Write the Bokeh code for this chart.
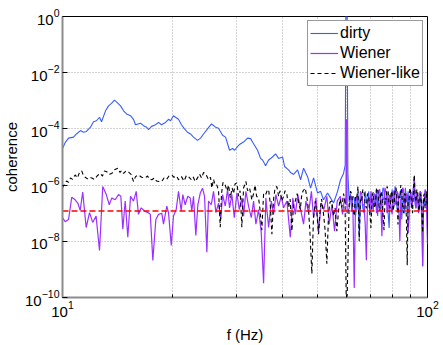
from bokeh.plotting import figure
from bokeh.models import FixedTicker, Legend, LegendItem, Range1d
from bokeh.embed import file_html
from bokeh.resources import INLINE

# ---------------- data ----------------
f_hi = [61, 61.5, 62, 62.5, 63, 63.5, 64, 64.5, 65, 65.5, 66, 66.5, 67, 67.5, 68, 68.5,
        69, 69.5, 70, 70.5, 71, 71.5, 72, 72.5, 73, 73.5, 74, 74.5, 75, 75.5, 76, 76.5,
        77, 77.5, 78, 78.5, 79, 79.5, 80, 80.5, 81, 81.5, 82, 82.5, 83, 83.5, 84, 84.5,
        85, 85.5, 86, 86.5, 87, 87.5, 88, 88.5, 89, 89.5, 90, 90.5, 91, 91.5, 92, 92.5,
        93, 93.5, 94, 94.5, 95, 95.5, 96, 96.5, 97, 97.5, 98, 98.5, 99, 99.5, 100]

f_dirty = [10.00, 10.19, 10.39, 10.72, 10.92, 11.20, 11.41, 11.63, 11.93, 12.16,
           12.39, 12.63, 12.79, 13.12, 13.37, 13.62, 13.88, 14.06, 14.42, 14.70,
           14.98, 15.36, 15.65, 15.85, 16.36, 16.67, 16.99, 17.21, 17.54, 17.98,
           18.33, 18.67, 19.15, 19.52, 19.77, 20.14, 20.40, 20.79, 21.18, 21.59,
           22.00, 22.42, 22.85, 23.44, 23.89, 24.35, 24.96, 25.60, 26.26, 26.76,
           27.45, 27.97, 28.69, 29.24, 29.61, 30.37, 30.75, 31.34, 32.14, 32.76,
           33.38, 34.23, 34.89, 35.33, 36.01, 36.70, 37.63, 38.35, 39.09, 40.09,
           40.59, 41.63, 42.16, 42.97, 44.06, 44.91, 45.76, 46.93, 47.83, 48.74,
           49.98, 50.94, 51.91, 53.23, 54.25, 55.29, 56.70, 57.78, 58.88, 59.50,
           59.75, 60.25, 60.50] + f_hi
coh_dirty = [2.0e-5, 3.4e-5, 4.7e-5, 5.1e-5, 6.6e-5, 8.7e-5, 7.6e-5, 8.1e-5, 1.15e-4, 1.8e-4,
             1.95e-4, 2.6e-4, 1.8e-4, 4.4e-4, 6.6e-4, 8.1e-4, 1.05e-3, 9.1e-4, 6.6e-4, 4.4e-4,
             3.4e-4, 2.95e-4, 2.2e-4, 1.4e-4, 1.6e-4, 1.3e-4, 1.15e-4, 9.5e-5, 1.23e-4, 1.4e-4,
             1.7e-4, 1.4e-4, 1.7e-4, 2.2e-4, 1.95e-4, 2.95e-4, 2.6e-4, 2.2e-4, 1.4e-4, 1.0e-4,
             7.6e-5, 6.6e-5, 5.1e-5, 3.9e-5, 4.7e-5, 6.6e-5, 1.0e-4, 1.5e-4, 1.15e-4, 1.05e-4,
             5.9e-5, 5.1e-5, 1.74e-5, 2.0e-5, 1.74e-5, 2.6e-5, 2.95e-5, 3.4e-5, 4.7e-5, 4.5e-5,
             2.95e-5, 1.74e-5, 8.9e-6, 7.8e-6, 4.9e-6, 7.8e-6, 1.0e-5, 1.3e-5, 8.9e-6, 1.0e-5,
             4.6e-6, 3.5e-6, 2.8e-6, 2.4e-6, 3.5e-6, 1.55e-6, 4.0e-6, 2.0e-6, 7.8e-7, 1.8e-6,
             5.2e-7, 6.0e-7, 3.0e-7, 5.2e-7, 3.5e-7, 2.3e-7, 6.0e-7, 1.55e-6, 2.6e-6, 5.0e-6,
             1.0, 1.0, 3.0e-6,
             2.5e-7, 5.0e-7, 1.2e-7, 4.0e-7, 3.5e-7, 8.0e-8, 2.0e-7, 5.5e-7, 1.4e-8, 3.0e-7,
             4.0e-7, 1.5e-7, 1.0e-7, 6.0e-7, 3.0e-7, 2.0e-7, 6.0e-7, 9.0e-8, 1.5e-7, 5.0e-7,
             4.5e-7, 2.5e-7, 2.0e-7, 7.0e-7, 8.0e-8, 3.5e-7, 5.0e-7, 1.5e-7, 2.5e-7, 8.0e-7,
             6.5e-7, 2.0e-7, 3.0e-7, 5.5e-7, 1.0e-7, 3.0e-8, 4.0e-7, 2.5e-7, 7.0e-7, 3.5e-7,
             2.0e-7, 9.0e-7, 5.0e-7, 1.5e-7, 1.2e-7, 4.5e-7, 3.5e-7, 7.0e-7, 6.0e-8, 2.5e-7,
             4.5e-7, 1.0e-7, 8.0e-7, 3.0e-7, 2.5e-7, 6.0e-7, 1.0e-7, 4.0e-7, 5.5e-7, 1.8e-7,
             3.0e-7, 9.0e-7, 7.0e-7, 2.0e-7, 1.5e-7, 5.0e-7, 4.0e-7, 1.2e-7, 3.0e-7, 6.0e-7,
             2.0e-7, 4.5e-8, 1.3e-9, 2.5e-7, 1.8e-7, 6.0e-7, 4.5e-7, 1.5e-7, 2.0e-7]

f_wiener = [10.00, 10.17, 10.39, 10.60, 10.83, 11.01, 11.18, 11.36, 11.61, 11.86,
            12.10, 12.36, 12.63, 12.89, 13.18, 13.43, 13.65, 13.94, 14.24, 14.45,
            14.63, 14.85, 15.10, 15.36, 15.65, 15.92, 16.15, 16.43, 16.78, 17.13,
            17.40, 17.68, 18.02, 18.33, 18.71, 18.91, 19.31, 19.52, 19.86, 20.14,
            20.49, 20.79, 21.14, 21.36, 21.68, 22.04, 22.38, 22.61, 22.85, 23.19,
            23.49, 23.85, 24.19, 24.50, 24.86, 25.12, 25.56, 25.93, 26.32, 26.76,
            27.15, 27.45, 27.92, 28.33, 28.69, 29.11, 29.56, 30.04, 30.50, 31.00,
            31.34, 31.80, 32.34, 32.90, 33.38, 33.87, 34.45, 35.03, 35.56, 36.07,
            36.70, 37.34, 37.87, 38.43, 39.09, 39.76, 40.34, 41.19, 42.08, 42.76,
            43.43, 44.14, 44.82, 45.76, 46.45, 47.23, 48.08, 48.74, 49.48, 50.30,
            51.16, 51.99, 53.00, 53.79, 54.70, 55.64, 56.58, 57.69, 58.51, 59.26,
            59.75, 60.00, 60.25] + f_hi
coh_wiener = [6.9e-8, 5.0e-8, 6.0e-8, 3.7e-7, 3.0e-7, 2.3e-7, 1.26e-7, 5.6e-7, 3.1e-8, 1.05e-7,
              4.7e-8, 7.9e-8, 4.7e-9, 8.9e-7, 4.6e-7, 2.0e-7, 3.5e-7, 3.0e-7, 4.6e-7, 4.0e-7,
              2.7e-8, 2.7e-7, 1.4e-8, 4.0e-7, 2.7e-7, 6.0e-7, 9.1e-8, 1.55e-7, 1.2e-7, 1.05e-7,
              9.1e-8, 2.1e-9, 6.0e-8, 9.1e-8, 1.0e-7, 4.1e-8, 1.8e-7, 1.05e-7, 7.1e-9, 7.9e-8,
              1.35e-7, 6.0e-7, 1.2e-7, 4.6e-7, 2.0e-7, 4.0e-7, 3.5e-7, 1.2e-7, 4.0e-7, 1.6e-8,
              2.0e-7, 5.2e-7, 7.8e-7, 4.0e-7, 4.1e-9, 2.7e-7, 2.0e-7, 6.0e-7, 1.05e-7, 2.3e-7,
              6.0e-8, 4.6e-7, 1.8e-7, 6.9e-7, 1.55e-7, 4.6e-7, 6.9e-8, 5.2e-7, 1.35e-7, 3.5e-7,
              7.9e-8, 6.0e-7, 1.8e-7, 6.9e-8, 2.7e-7, 4.1e-8, 1.35e-7, 2.1e-8, 3.2e-10, 3.5e-7,
              3.1e-8, 2.7e-7, 9.1e-8, 4.6e-7, 1.8e-7, 4.0e-7, 1.55e-7, 2.7e-7, 1.4e-8, 3.5e-7,
              9.1e-8, 4.6e-7, 1.55e-7, 4.1e-8, 2.7e-7, 1.05e-7, 6.0e-7, 6.9e-8, 3.5e-7, 2.3e-8,
              2.3e-7, 1.35e-7, 4.0e-7, 4.1e-8, 2.0e-7, 2.3e-8, 2.7e-7, 4.0e-7, 9.1e-8, 3.5e-7,
              2.0e-7, 2.2e-4, 1.0e-7,
              1.5e-7, 4.5e-7, 3.0e-7, 1.0e-7, 2.2e-10, 2.5e-7, 4.0e-7, 1.5e-7, 1.0e-7, 6.0e-7,
              5.0e-7, 2.0e-7, 2.0e-7, 4.0e-8, 2.1e-9, 3.0e-7, 3.5e-7, 1.2e-7, 6.0e-7, 3.0e-7,
              1.2e-7, 5.0e-7, 4.5e-7, 1.0e-7, 2.5e-7, 6.5e-7, 7.0e-7, 2.0e-7, 1.5e-8, 3.5e-7,
              3.0e-7, 8.0e-7, 5.5e-7, 1.0e-7, 1.5e-7, 4.5e-7, 4.0e-7, 1.5e-7, 9.0e-8, 5.0e-7,
              6.5e-7, 2.0e-7, 2.5e-7, 6.0e-7, 5.0e-7, 1.2e-7, 1.0e-8, 3.0e-7, 3.5e-7, 8.0e-7,
              7.0e-7, 1.5e-7, 2.0e-7, 5.0e-7, 4.5e-7, 2.0e-8, 6.0e-8, 4.0e-7, 5.0e-7, 1.5e-7,
              2.5e-7, 7.0e-7, 2.0e-6, 3.0e-7, 1.5e-7, 5.5e-7, 4.0e-7, 1.0e-7, 2.0e-7, 6.0e-7,
              5.5e-7, 1.5e-7, 1.3e-9, 3.5e-7, 3.0e-7, 7.0e-7, 6.0e-7, 1.0e-7, 8.0e-9]

f_wlike = [10.00, 10.13, 10.26, 10.39, 10.52, 10.65, 10.83, 10.99, 11.13, 11.29,
           11.41, 11.54, 11.71, 11.86, 12.03, 12.23, 12.47, 12.69, 12.87, 13.03,
           13.22, 13.41, 13.65, 13.88, 14.18, 14.38, 14.51, 14.70, 14.93, 15.17,
           15.41, 15.65, 15.85, 16.15, 16.47, 16.85, 17.10, 17.32, 17.57, 17.87,
           18.10, 18.33, 18.71, 18.97, 19.28, 19.58, 19.93, 20.20, 20.53, 20.79,
           21.18, 21.52, 21.86, 22.14, 22.49, 22.78, 23.10, 23.44, 23.74, 24.04,
           24.35, 24.61, 24.89, 25.12, 25.44, 25.66, 25.93, 26.18, 26.48, 26.76,
           27.05, 27.27, 27.53, 27.92, 28.24, 28.51, 28.82, 29.15, 29.43, 29.70,
           30.04, 30.37, 30.66, 31.00, 31.34, 31.80, 32.14, 32.55, 33.02, 33.38,
           33.70, 34.02, 34.45, 34.78, 35.17, 35.56, 36.01, 36.36, 36.70, 37.05,
           37.47, 37.87, 38.23, 38.67, 39.09, 39.46, 39.91, 40.34, 40.72, 41.19,
           41.63, 42.03, 42.51, 42.97, 43.43, 43.93, 44.34, 44.82, 45.19, 45.62,
           46.26, 46.79, 47.23, 47.68, 48.22, 48.69, 49.27, 49.76, 50.30, 50.78,
           51.26, 51.91, 52.41, 53.00, 53.57, 54.08, 54.70, 55.29, 55.81, 56.45,
           57.06, 57.60, 58.25, 58.88, 59.44, 60.00] + f_hi
coh_wlike = [7.9e-7, 1.1e-6, 1.4e-6, 1.26e-6, 1.8e-6, 1.6e-6, 2.3e-6, 1.8e-6, 2.8e-6, 3.2e-6,
             2.2e-6, 1.9e-6, 1.66e-6, 1.9e-6, 1.8e-6, 1.6e-6, 2.2e-6, 2.6e-6, 2.1e-6, 3.2e-6,
             3.0e-6, 2.4e-6, 2.6e-6, 3.5e-6, 4.0e-6, 2.8e-6, 3.3e-6, 2.6e-6, 3.2e-6, 2.9e-6,
             2.4e-6, 1.35e-6, 2.0e-6, 2.3e-6, 1.9e-6, 1.8e-6, 2.1e-6, 1.6e-6, 1.55e-6, 1.8e-6,
             1.4e-6, 1.35e-6, 1.35e-6, 1.8e-6, 1.6e-6, 2.1e-6, 2.3e-6, 1.9e-6, 2.1e-6, 1.55e-6,
             2.0e-6, 1.4e-6, 2.2e-6, 2.0e-6, 1.6e-6, 2.0e-6, 1.35e-6, 1.8e-6, 2.5e-6, 1.8e-6,
             2.8e-6, 2.6e-6, 2.0e-6, 1.55e-6, 1.9e-6, 7.9e-7, 1.6e-6, 1.0e-6, 1.0e-6, 6.3e-7,
             3.2e-8, 5.0e-7, 1.26e-6, 1.0e-6, 6.3e-7, 1.0e-6, 3.5e-7, 7.9e-7, 5.0e-7, 1.1e-6,
             1.2e-6, 4.0e-7, 6.3e-7, 3.2e-8, 7.9e-7, 1.35e-6, 6.3e-7, 7.9e-7, 3.0e-7, 5.0e-7,
             1.0e-6, 4.0e-7, 3.5e-7, 1.26e-7, 2.5e-8, 5.0e-7, 4.5e-7, 6.3e-7, 6.9e-7, 2.5e-7,
             1.8e-8, 3.2e-7, 7.9e-7, 8.9e-7, 4.0e-7, 6.3e-7, 2.7e-7, 4.0e-7, 6.3e-7, 4.6e-7,
             1.6e-7, 3.2e-7, 2.3e-8, 2.0e-7, 2.7e-7, 5.0e-7, 2.5e-7, 1.35e-7, 4.0e-7, 6.3e-7,
             7.8e-7, 3.2e-7, 1.26e-7, 1.6e-8, 7.1e-10, 6.3e-8, 2.7e-7, 1.0e-7, 1.8e-8, 1.26e-7,
             3.2e-7, 9.1e-8, 2.5e-8, 1.6e-9, 1.0e-7, 2.5e-7, 2.7e-7, 7.9e-8, 1.6e-7, 2.3e-8,
             1.26e-7, 3.2e-7, 1.6e-7, 5.0e-7, 2.5e-7, 1.0e-11,
             2.0e-7, 6.0e-7, 5.0e-7, 1.5e-7, 8.0e-8, 4.0e-7, 3.5e-7, 9.0e-7, 1.0e-8, 3.0e-7,
             2.5e-7, 7.0e-7, 6.0e-7, 2.0e-7, 1.5e-7, 5.0e-7, 4.0e-7, 1.0e-7, 3.0e-8, 4.0e-7,
             5.5e-7, 1.5e-7, 2.0e-7, 8.0e-7, 7.0e-7, 2.5e-7, 1.2e-7, 6.0e-7, 4.5e-7, 1.0e-7,
             2.5e-8, 3.5e-7, 3.0e-7, 9.0e-7, 6.5e-7, 2.0e-7, 1.5e-7, 6.0e-7, 5.0e-7, 1.2e-7,
             2.0e-7, 7.0e-7, 8.0e-7, 3.0e-7, 4.0e-8, 4.0e-7, 3.5e-7, 1.0e-6, 6.0e-7, 1.5e-7,
             1.0e-7, 5.0e-7, 4.5e-7, 8.0e-8, 1.4e-9, 3.0e-7, 3.0e-7, 8.0e-7, 5.5e-7, 2.0e-7,
             1.0e-7, 6.0e-7, 2.3e-6, 4.0e-7, 2.5e-7, 7.0e-7, 6.0e-7, 1.5e-7, 1.2e-7, 5.0e-7,
             4.0e-7, 1.0e-7, 2.0e-8, 4.0e-7, 5.0e-7, 1.5e-7, 2.0e-7, 6.0e-7, 1.5e-7]

f_thr = [10, 100]
coh_thr = [1.2e-7, 1.2e-7]

x_major = [10, 100]
x_minor = [20, 30, 40, 50, 60, 70, 80, 90]
y_major = [1e-10, 1e-8, 1e-6, 1e-4, 1e-2, 1]

labels = ["dirty", "Wiener", "Wiener-like"]

# ---------------- figure ----------------
FONT = "Liberation Sans"
p = figure(width=443, height=345, x_axis_type="log", y_axis_type="log",
           x_range=Range1d(10, 100), y_range=Range1d(1e-10, 1),
           output_backend="svg", toolbar_location=None,
           min_border_left=62, min_border_right=16, min_border_top=16, min_border_bottom=44,
           background_fill_color="white", border_fill_color="white")

r_dirty = p.line(f_dirty, coh_dirty, line_color="#3a5cff", line_width=1.1)
r_wiener = p.line(f_wiener, coh_wiener, line_color="#9b30ff", line_width=1.2)
r_wlike = p.line(f_wlike, coh_wlike, line_color="black", line_width=1.1, line_dash="4 3")
p.line(f_thr, coh_thr, line_color="#ff0000", line_width=1.6, line_dash="6 3")

p.xaxis.ticker = FixedTicker(ticks=x_major, minor_ticks=x_minor)
p.yaxis.ticker = FixedTicker(ticks=y_major, minor_ticks=[])
p.xgrid.ticker = FixedTicker(ticks=x_major, minor_ticks=x_minor)
p.ygrid.ticker = FixedTicker(ticks=y_major, minor_ticks=[])

for g in (p.xgrid, p.ygrid):
    g.grid_line_color = "#a8a8a8"
    g.grid_line_dash = "1 2"
    g.grid_line_width = 1
p.xgrid.minor_grid_line_color = "#a8a8a8"
p.xgrid.minor_grid_line_dash = "1 2"

for ax in (p.xaxis[0], p.yaxis[0]):
    ax.major_label_text_font = FONT
    ax.major_label_text_font_size = "15px"
    ax.major_label_text_color = "black"
    ax.axis_label_text_font = FONT
    ax.axis_label_text_font_size = "15px"
    ax.axis_label_text_font_style = "normal"
    ax.axis_label_text_color = "black"
    ax.axis_line_color = "#8c8c8c"
    ax.axis_line_width = 2
    ax.major_tick_in = 5
    ax.major_tick_out = 0
    ax.minor_tick_in = 3
    ax.minor_tick_out = 0
    ax.major_tick_line_color = "black"
    ax.minor_tick_line_color = "black"
    ax.major_label_standoff = 3

p.xaxis.axis_label = "f (Hz)"
p.yaxis.axis_label = "coherence"
p.xaxis.axis_label_standoff = 6
p.yaxis.axis_label_standoff = 2

p.outline_line_color = "black"
p.outline_line_width = 1

legend = Legend(items=[LegendItem(label=labels[0], renderers=[r_dirty]),
                       LegendItem(label=labels[1], renderers=[r_wiener]),
                       LegendItem(label=labels[2], renderers=[r_wlike])],
                location="top_right")
legend.label_text_font = FONT
legend.label_text_font_size = "16px"
legend.label_text_color = "black"
legend.border_line_color = "#333333"
legend.border_line_width = 1
legend.background_fill_color = "white"
legend.background_fill_alpha = 1
legend.margin = 4
legend.padding = 2
legend.spacing = 0
legend.glyph_width = 28
legend.glyph_height = 20
legend.label_height = 20
legend.label_standoff = 2
p.add_layout(legend)

open("out.html", "w").write(file_html(p, INLINE))
